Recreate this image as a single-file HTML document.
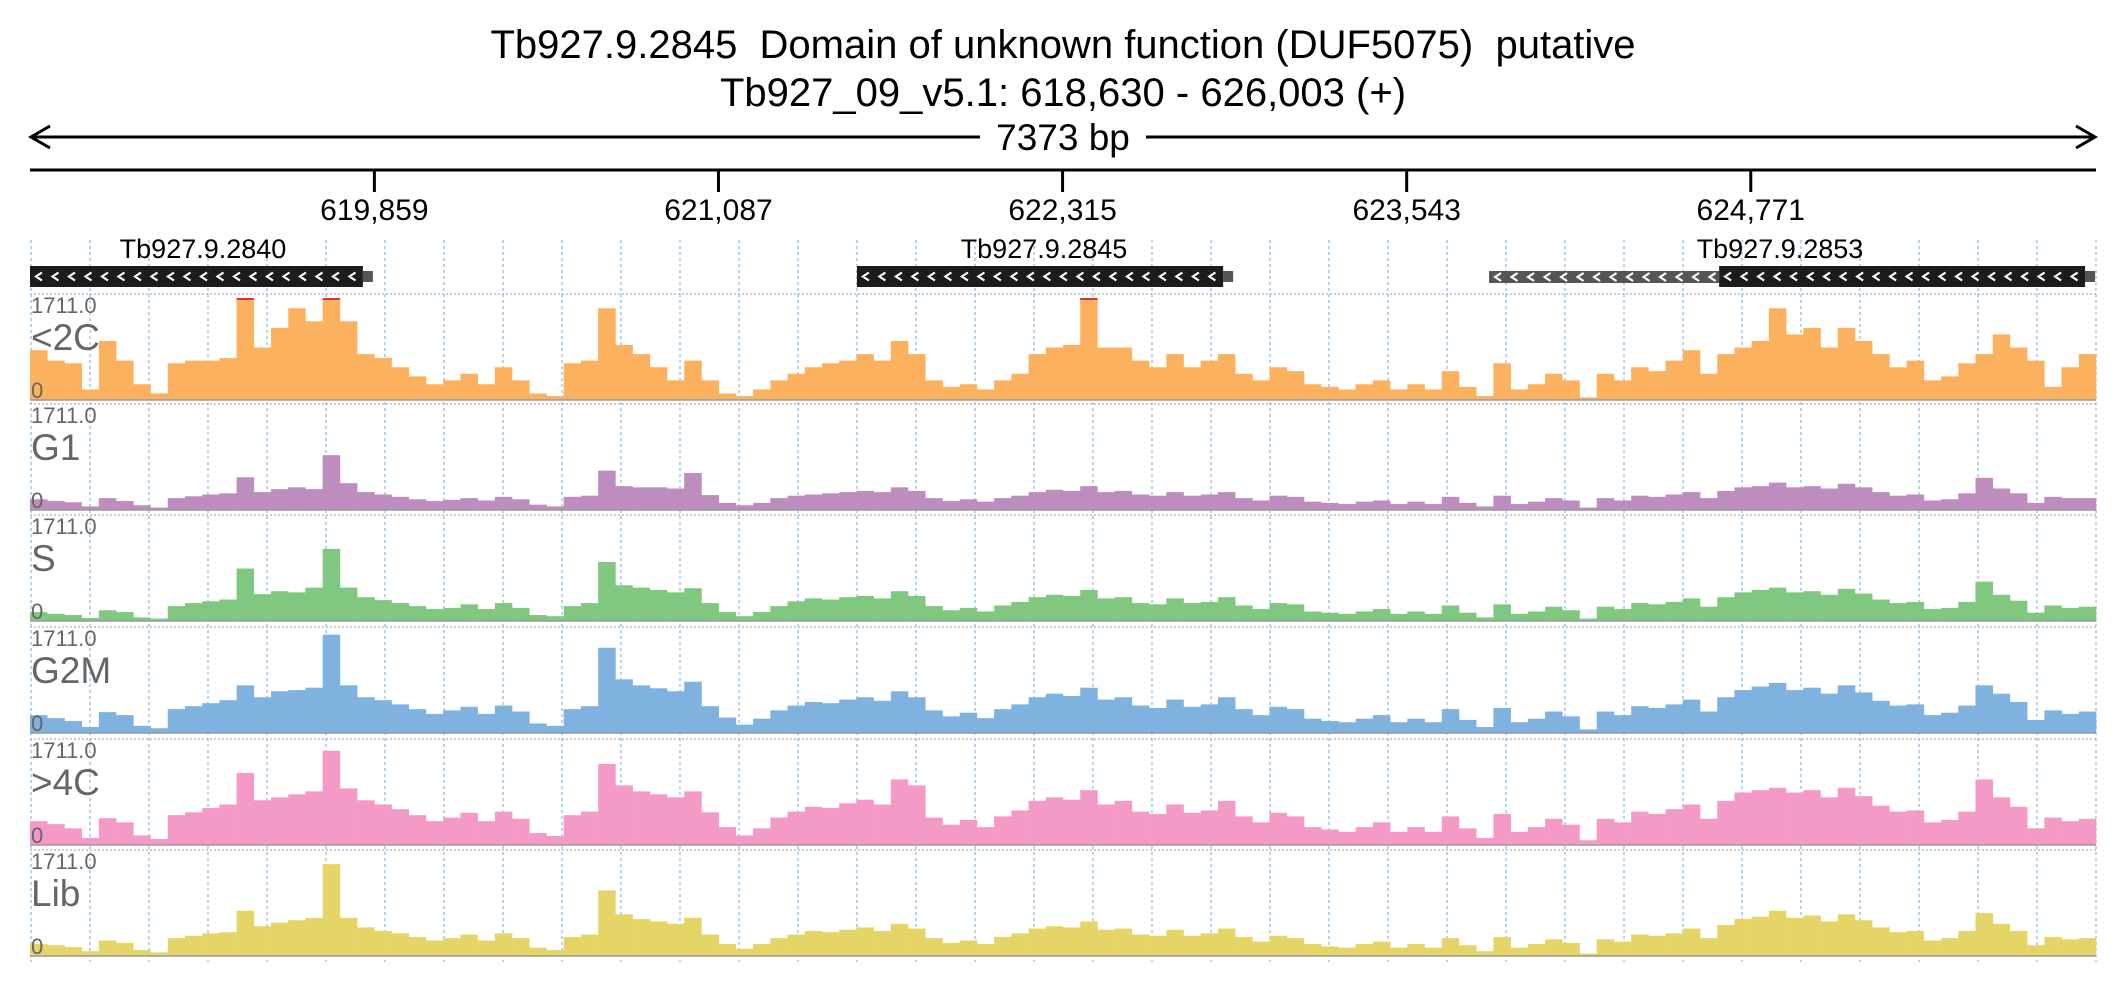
<!DOCTYPE html>
<html><head><meta charset="utf-8"><style>
html,body{margin:0;padding:0;background:#fff;}
svg{display:block;font-family:"Liberation Sans",sans-serif;}
</style></head><body>
<svg id="chart" width="2126" height="1000" viewBox="0 0 2126 1000" xmlns="http://www.w3.org/2000/svg">
<text x="1063" y="58" text-anchor="middle" font-size="40" fill="#000" style="white-space:pre">Tb927.9.2845  Domain of unknown function (DUF5075)  putative</text>
<text x="1063" y="106" text-anchor="middle" font-size="40" fill="#000">Tb927_09_v5.1: 618,630 - 626,003 (+)</text>
<g>
<line x1="32" y1="137" x2="2094" y2="137" stroke="#000" stroke-width="3"/>
<polyline points="50,126 31,137 50,148" fill="none" stroke="#000" stroke-width="3"/>
<polyline points="2076,126 2095,137 2076,148" fill="none" stroke="#000" stroke-width="3"/>
<rect x="980" y="118" width="166" height="38" fill="#fff"/>
<text x="1063" y="150" text-anchor="middle" font-size="37">7373 bp</text>
</g>
<line x1="30" y1="170" x2="2096" y2="170" stroke="#000" stroke-width="3"/>
<g id="ticks"></g>
<g id="grid"></g>
<g id="genes"></g>
<g id="tracks"></g>
</svg>
<script>
const NS="http://www.w3.org/2000/svg";
const startBp=618630, endBp=626003;
const tickValues=[619859,621087,622315,623543,624771];
const trackNames=["<2C","G1","S","G2M",">4C","Lib"];
const trackColors=["#fbb15e","#be8dc0","#80c880","#7fb2df","#f39ac6","#e4d566"];
const yMax=1711;
const v2C=[836,660,616,176,990,660,264,110,616,660,660,704,1711,880,1210,1540,1320,1711,1320,770,704,550,396,264,330,440,264,550,330,110,66,616,660,1540,924,770,550,330,660,330,110,66,176,330,440,550,616,660,770,660,990,770,330,220,264,176,330,440,770,880,924,1711,880,880,660,550,770,550,660,770,440,330,550,484,264,220,176,264,330,176,264,176,484,220,66,616,176,264,440,330,44,440,330,550,484,660,836,440,770,880,990,1540,1100,1210,880,1210,990,770,550,660,330,396,616,770,1100,880,660,220,550,770];
const vG1=[180,150,130,60,200,150,80,40,200,230,260,280,550,300,350,380,350,920,450,300,260,220,180,150,170,200,160,220,180,90,60,220,240,660,400,380,380,360,620,250,120,80,120,200,240,260,280,300,320,300,380,320,200,150,180,140,200,240,300,340,320,400,300,320,260,240,300,240,260,300,200,160,240,220,140,120,100,140,160,100,140,100,220,120,60,240,100,140,200,160,40,200,160,240,220,260,300,200,320,380,400,460,380,400,360,440,380,300,240,260,160,180,280,540,360,280,120,220,200,200];
const vS=[150,120,100,50,180,150,60,40,250,300,330,360,880,450,500,480,560,1210,560,400,350,300,250,200,220,280,200,300,220,100,80,250,300,990,600,560,520,480,550,300,150,80,150,250,330,380,360,400,420,380,500,420,250,180,220,160,260,320,400,440,420,520,380,400,300,280,380,300,320,400,260,200,300,280,160,140,120,160,200,120,160,120,260,140,60,280,120,160,240,180,40,240,200,300,280,320,380,240,400,480,520,560,480,500,440,540,460,360,300,320,200,220,320,660,440,340,140,260,220,240];
const vG2M=[300,250,200,100,350,300,120,80,400,450,500,550,800,600,700,720,760,1650,800,600,550,480,400,320,380,440,320,460,360,160,120,400,450,1430,900,800,750,700,860,450,260,140,240,380,460,520,500,560,600,540,700,600,380,280,340,250,400,480,600,660,620,760,560,600,460,420,560,440,480,600,400,300,440,400,240,200,180,240,300,180,240,180,400,220,100,420,180,240,360,280,60,360,300,450,420,480,560,360,600,720,780,840,720,760,660,800,680,540,460,480,300,340,460,800,660,520,220,380,320,360];
const v4C=[400,350,280,120,450,380,160,100,500,550,620,680,1210,750,800,850,900,1580,950,750,680,600,500,400,460,540,400,560,440,200,150,500,560,1360,1000,900,850,800,900,550,300,160,280,460,560,640,620,700,760,680,1100,1000,460,340,420,300,480,580,740,800,760,920,680,740,560,520,680,540,580,740,480,380,540,480,300,260,220,300,380,220,300,220,480,280,120,520,220,300,440,340,80,440,380,560,520,600,680,440,740,880,920,960,880,920,800,960,820,660,560,580,380,420,560,1100,800,640,280,460,400,440];
const vLib=[200,180,150,80,260,220,100,60,300,340,380,400,760,500,560,600,640,1540,640,480,420,380,320,260,300,360,260,380,300,140,100,320,360,1100,700,620,580,540,640,360,200,120,200,300,360,420,400,440,480,420,540,460,300,220,260,200,320,380,460,500,480,580,440,460,360,340,440,340,380,460,320,240,340,300,200,160,140,200,240,140,200,140,300,180,80,320,140,200,280,220,40,280,240,360,340,380,460,300,520,620,660,760,640,680,580,700,600,480,400,420,260,300,420,720,540,420,180,320,280,300];
const series=[v2C,vG1,vS,vG2M,v4C,vLib];
const geneNames=["Tb927.9.2840","Tb927.9.2845","Tb927.9.2853"];
const geneStarts=[618630,621581,624658];
const geneEnds=[619818,622888,625964];
const utrStarts=[null,null,623837];

const X0=30,X1=2096;
const xScale=bp=>X0+(bp-startBp)/(endBp-startBp)*(X1-X0);
function mk(tag,attrs,parent){const e=document.createElementNS(NS,tag);for(const k in attrs)e.setAttribute(k,attrs[k]);parent.appendChild(e);return e;}

const tg=document.getElementById('ticks');
tickValues.forEach((t,i)=>{
  const x=xScale(t);
  const l=mk('line',{x1:x,y1:170,x2:x,y2:192,stroke:'#000','stroke-width':3},tg);
  
  
  const tx=mk('text',{x:x,y:220,'text-anchor':'middle','font-size':30},tg);
  tx.textContent=t.toLocaleString('en-US');
  
  
});

const gg=document.getElementById('grid');
for(let x=31;x<=2098;x+=59){
  const l=mk('line',{x1:x,y1:240,x2:x,y2:962,stroke:'#9cc8ec','stroke-width':1.5,'stroke-dasharray':'3,3'},gg);
  
  
}

const ge=document.getElementById('genes');
function drawGeneBar(x1,x2,y,h,fill,g){
  mk('rect',{x:x1,y:y,width:x2-x1,height:h,fill:fill},g);
  const cy=y+h/2;
  let d='';
  for(let x=x1+6;x<=x2-8;x+=16.5){ d+=`M${x+6},${cy-4}L${x},${cy}L${x+6},${cy+4}`; }
  mk('path',{d:d,fill:'none',stroke:'#fff','stroke-width':2.2},g);
}
geneNames.forEach((n,i)=>{
  const g=mk('g',{},ge);
  
  
  const x1=xScale(geneStarts[i]), x2=xScale(geneEnds[i]);
  mk('rect',{x:x2,y:271,width:10,height:11,fill:'#555'},g);
  if(utrStarts[i]!==null){ drawGeneBar(xScale(utrStarts[i]),x1,271,12,'#555',g); }
  drawGeneBar(x1,x2,266,21,'#1c1c1c',g);
  const t=mk('text',{x:[203,1044,1780][i],y:258,'text-anchor':'middle','font-size':27},g);
  t.textContent=n;
});

const tr=document.getElementById('tracks');
const tops=[294,404,515,627,739,850];
series.forEach((vals,k)=>{
  const g=mk('g',{},tr);
  
  
  const top=tops[k], base=top+106, H=102;
  mk('line',{x1:30,y1:top,x2:2096,y2:top,stroke:'#bbb','stroke-width':1.5,'stroke-dasharray':'2,2'},g);
  const n=vals.length, bw=(X1-X0)/n;
  vals.forEach((v,i)=>{
    const h=Math.min(v,yMax)/yMax*H;
    const b=mk('rect',{x:X0+i*bw,y:base-h,width:bw+0.3,height:h,fill:trackColors[k]},g);
    
    
    if(v>=yMax) mk('rect',{x:X0+i*bw,y:base-H,width:bw,height:2,fill:'#d33'},g);
  });
  mk('line',{x1:30,y1:base,x2:2096,y2:base,stroke:'#999','stroke-width':1.5},g);
  const mx=mk('text',{x:31,y:top+19,'font-size':22,fill:'#666'},g);
  mx.textContent='1711.0';
  const nm=mk('text',{x:31,y:top+56,'font-size':37,fill:'#666'},g);
  nm.textContent=trackNames[k];
  const z=mk('text',{x:31,y:base-2,'font-size':22,fill:'#666'},g);
  z.textContent='0';
});
</script>
</body></html>
